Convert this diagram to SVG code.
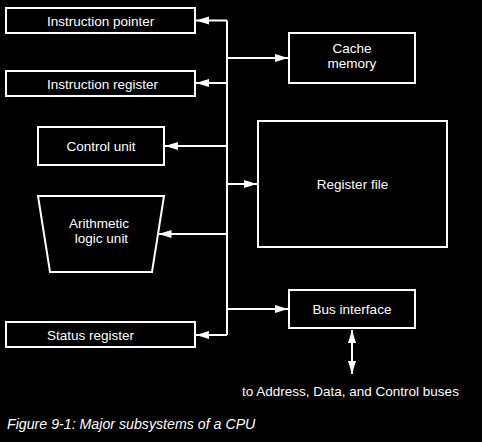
<svg xmlns="http://www.w3.org/2000/svg" width="482" height="442" viewBox="0 0 482 442">
<style>
.box{fill:#000;stroke:#fff;stroke-width:2}
.ln{stroke:#fff;stroke-width:2;fill:none}
.t{fill:#fff;font-family:"Liberation Sans",Arial,sans-serif;font-size:13.5px}
.c{text-anchor:middle}
.cap{fill:#fff;font-family:"Liberation Sans",Arial,sans-serif;font-size:14.2px;font-style:italic}
</style>
<defs>
<marker id="ah" markerUnits="userSpaceOnUse" markerWidth="14" markerHeight="10" refX="13" refY="4" orient="auto-start-reverse">
<path d="M0,0 L13,4 L0,8 Z" fill="#fff"/>
</marker>
</defs>
<rect width="482" height="442" fill="#000"/>
<g id="connectors">
<path class="ln" d="M227,20.5 V335"/>
<line class="ln" x1="227" y1="20.5" x2="196" y2="20.5" marker-end="url(#ah)"/>
<line class="ln" x1="227" y1="58" x2="288" y2="58" marker-end="url(#ah)"/>
<line class="ln" x1="227" y1="83" x2="196" y2="83" marker-end="url(#ah)"/>
<line class="ln" x1="227" y1="146" x2="165" y2="146" marker-end="url(#ah)"/>
<line class="ln" x1="227" y1="184" x2="257" y2="184" marker-end="url(#ah)"/>
<line class="ln" x1="227" y1="234" x2="158.5" y2="234" marker-end="url(#ah)"/>
<line class="ln" x1="227" y1="309" x2="288" y2="309" marker-end="url(#ah)"/>
<line class="ln" x1="227" y1="335" x2="196" y2="335" marker-end="url(#ah)"/>
<line class="ln" x1="352" y1="330" x2="352" y2="374" marker-start="url(#ah)" marker-end="url(#ah)"/>
</g>
<g id="instruction-pointer">
<rect class="box" x="6" y="8" width="189" height="25"/>
<text class="t" x="47" y="25.5">Instruction pointer</text>
</g>
<g id="instruction-register">
<rect class="box" x="6" y="71" width="189" height="25"/>
<text class="t" x="47" y="88.5">Instruction register</text>
</g>
<g id="control-unit">
<rect class="box" x="38" y="127" width="126" height="38"/>
<text class="t c" x="101" y="151">Control unit</text>
</g>
<g id="alu">
<path class="box" d="M38,196 H164 L152,272 H50 Z"/>
<text class="t c" x="99" y="228">Arithmetic</text>
<text class="t c" x="101.5" y="243">logic unit</text>
</g>
<g id="status-register">
<rect class="box" x="6" y="322" width="189" height="25"/>
<text class="t" x="47" y="339.5">Status register</text>
</g>
<g id="cache-memory">
<rect class="box" x="289" y="33" width="126" height="50"/>
<text class="t c" x="352" y="53">Cache</text>
<text class="t c" x="352" y="68">memory</text>
</g>
<g id="register-file">
<rect class="box" x="258" y="121" width="189" height="126"/>
<text class="t c" x="352.5" y="188.5">Register file</text>
</g>
<g id="bus-interface">
<rect class="box" x="289" y="290" width="126" height="38"/>
<text class="t c" x="352" y="314">Bus interface</text>
</g>
<text class="t" x="242" y="396">to Address, Data, and Control buses</text>
<text class="cap" x="7" y="429">Figure 9-1: Major subsystems of a CPU</text>
</svg>
